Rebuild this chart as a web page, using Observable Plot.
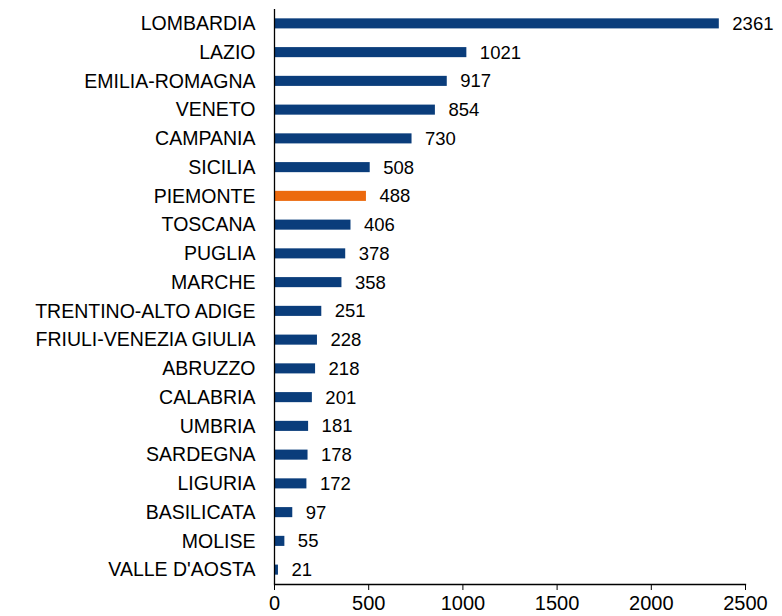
<!DOCTYPE html>
<html>
<head>
<meta charset="utf-8">
<script src="https://cdn.jsdelivr.net/npm/d3@7"></script>
<script src="https://cdn.jsdelivr.net/npm/@observablehq/plot@0.6"></script>
<style>
  body { margin: 0; background: #fff; }
  #chart { width: 782px; height: 616px; }
</style>
</head>
<body>
<div id="chart"></div>
<script>
const regions = ["LOMBARDIA","LAZIO","EMILIA-ROMAGNA","VENETO","CAMPANIA","SICILIA","PIEMONTE","TOSCANA","PUGLIA","MARCHE","TRENTINO-ALTO ADIGE","FRIULI-VENEZIA GIULIA","ABRUZZO","CALABRIA","UMBRIA","SARDEGNA","LIGURIA","BASILICATA","MOLISE","VALLE D'AOSTA"];
const values = [2361,1021,917,854,730,508,488,406,378,358,251,228,218,201,181,178,172,97,55,21];
const highlight = "PIEMONTE";
const xTicks = [0,500,1000,1500,2000,2500];

const data = regions.map((r, i) => ({region: r, value: values[i]}));
const blue = "#0a3d7b";
const orange = "#ec6a0e";

const chart = Plot.plot({
  width: 782,
  height: 616,
  marginLeft: 274,
  marginRight: 37,
  marginTop: 9,
  marginBottom: 32,
  style: {fontFamily: "'Liberation Sans', Arial, sans-serif", fontSize: "19px", color: "#000", background: "#fff"},
  x: {domain: [0, 2500]},
  y: {domain: regions, paddingInner: 0.65, paddingOuter: 0.325, align: 0.5, round: false},
  marks: [
    Plot.barX(data, {x: "value", y: "region", fill: d => d.region === highlight ? orange : blue}),
    Plot.text(data, {x: "value", y: "region", text: d => String(d.value), textAnchor: "start", dx: 13, fontSize: 18.5, fill: "#000"}),
    Plot.axisY({tickSize: 0, tickPadding: 19, label: null, fontSize: 19.5}),
    Plot.axisX({ticks: xTicks, tickSize: 6, tickPadding: 5, label: null, fontSize: 20, tickFormat: d => String(d)}),
    Plot.ruleX([0], {stroke: "#000", strokeWidth: 1.3}),
    Plot.frame({anchor: "bottom", stroke: "#000", strokeWidth: 1.3})
  ]
});
document.getElementById("chart").appendChild(chart);
</script>
</body>
</html>
